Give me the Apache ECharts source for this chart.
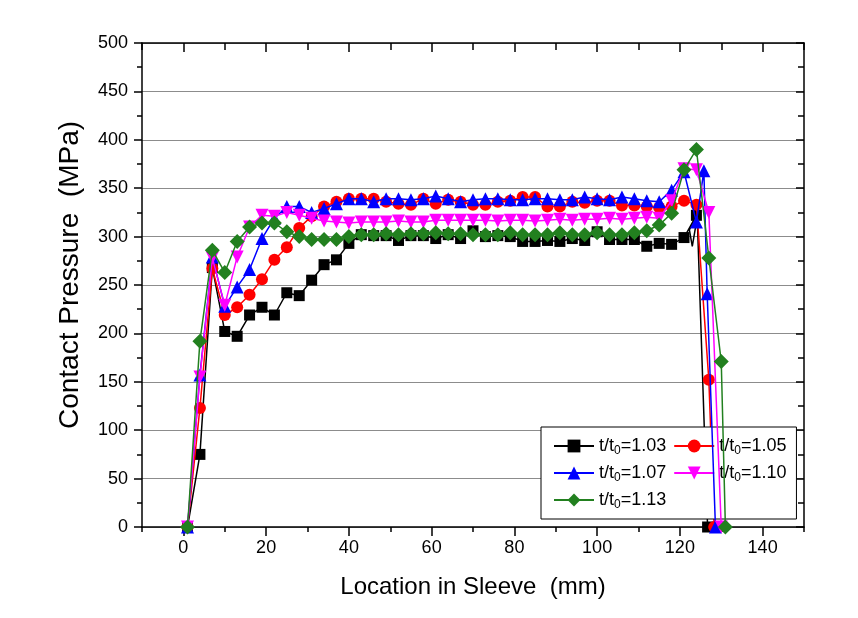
<!DOCTYPE html>
<html><head><meta charset="utf-8">
<script src="https://cdn.jsdelivr.net/npm/echarts@6/dist/echarts.min.js"></script>
<style>html,body{margin:0;padding:0;background:#fff}#c{width:858px;height:618px}</style>
</head><body><div id="c"></div>
<script>
// Location in sleeve (mm), shared by the main part of every curve
const loc = [1,4,7,10,13,16,19,22,25,28,31,34,37,40,43,46,49,52,55,58,61,64,67,70,73,76,79,82,85,88,91,94,97,100,103,106,109,112,115,118,121,124];

const ratios = ['1.03','1.05','1.07','1.10','1.13'];

const p103 = [0,75,268,202,197,219,227,219,242,239,255,271,276,293,302,301,301,296,301,301,298,302,298,306,300,301,300,295,295,296,295,298,296,305,297,297,297,290,293,292,299,322];
const p103TailX = [122.3,123,124.2,126.7];
const p103TailY = [307,290,320,0];
const p103TailMark = [false,false,false,true];

const p105 = [0,123,267,219,227,240,256,276,289,309,321,331,336,339,339,339,336,334,333,339,334,338,336,333,333,336,337,341,341,331,331,336,335,337,337,332,332,331,330,331,337,333];
const p105TailX = [127,128.3];
const p105TailY = [152,0];

const p107 = [0,157,279,228,248,266,298,319,331,331,325,329,334,339,339,336,339,339,338,339,342,339,336,338,339,339,338,338,339,339,338,338,341,339,338,341,339,337,336,348,367,315];
const p107TailX = [125.8,126.6,128.6];
const p107TailY = [368,241,0];

const p110 = [0,155,278,229,279,310,322,321,325,322,319,316,315,314,315,315,315,316,315,315,317,317,317,317,317,316,317,317,316,317,318,317,318,318,319,318,319,320,319,337,370,369];
const p110TailX = [127,130];
const p110TailY = [325,0];

const p113 = [0,192,286,263,295,310,314,314,305,300,297,297,297,300,302,302,303,302,303,303,304,303,303,302,302,302,304,302,302,302,304,302,302,304,302,302,304,306,312,324,369,390];
const p113TailX = [127,130,131];
const p113TailY = [278,171,0];

const xMajor = [0,20,40,60,80,100,120,140];
const xMinor = [-10,10,30,50,70,90,110,130,150];

function build(ys, tx, ty, tmark) {
  const d = loc.map((x, i) => [x, ys[i]]);
  tx.forEach((x, i) => {
    if (tmark && !tmark[i]) d.push({value: [x, ty[i]], symbol: 'none'});
    else d.push([x, ty[i]]);
  });
  return d;
}

const FONT = 'Liberation Sans, Arial, Helvetica, sans-serif';
const colors = ['#000000', '#ff0000', '#0000ff', '#ff00ff', '#22801f'];
const symbols = ['rect', 'circle', 'triangle', 'path://M0,0 L10,0 L5,9 Z', 'diamond'];
const sizes = [11, 12, 13, 13, 15];
const datas = [
  build(p103, p103TailX, p103TailY, p103TailMark),
  build(p105, p105TailX, p105TailY),
  build(p107, p107TailX, p107TailY),
  build(p110, p110TailX, p110TailY),
  build(p113, p113TailX, p113TailY)
];

const axisLineStyle = {color: '#000', width: 1.5};
const baseX = {type: 'value', min: -10, max: 150, interval: 10, gridIndex: 0, splitLine: {show: false}};
const baseY = {type: 'value', min: 0, max: 500, interval: 50, gridIndex: 0};

const chart = echarts.init(document.getElementById('c'), null, {renderer: 'canvas'});
chart.setOption({
  animation: false,
  backgroundColor: '#fff',
  grid: {left: 142, right: 54, top: 43, bottom: 91},
  xAxis: [
    Object.assign({}, baseX, {
      position: 'bottom',
      axisLine: {show: true, onZero: false, lineStyle: axisLineStyle},
      axisTick: {show: true, customValues: xMajor, length: 9, lineStyle: {color: '#000', width: 1.5}},
      axisLabel: {customValues: xMajor, fontSize: 18, fontFamily: FONT, color: '#000', margin: 12},
      name: 'Location in Sleeve  (mm)', nameLocation: 'middle', nameGap: 48,
      nameTextStyle: {fontSize: 24, fontFamily: FONT, color: '#000'}
    }),
    Object.assign({}, baseX, {
      position: 'bottom',
      axisLine: {show: false, onZero: false},
      axisTick: {show: true, customValues: xMinor, length: 5, lineStyle: {color: '#000', width: 1.5}},
      axisLabel: {show: false}
    }),
    Object.assign({}, baseX, {
      position: 'top',
      axisLine: {show: true, onZero: false, lineStyle: axisLineStyle},
      axisTick: {show: true, inside: true, customValues: xMajor, length: 9, lineStyle: {color: '#000', width: 1.5}},
      axisLabel: {show: false}
    }),
    Object.assign({}, baseX, {
      position: 'top',
      axisLine: {show: false, onZero: false},
      axisTick: {show: true, inside: true, customValues: xMinor, length: 7, lineStyle: {color: '#000', width: 1.5}},
      axisLabel: {show: false}
    })
  ],
  yAxis: [
    Object.assign({}, baseY, {
      position: 'left',
      axisLine: {show: true, onZero: false, lineStyle: axisLineStyle},
      axisTick: {show: true, length: 8, lineStyle: {color: '#000', width: 1.5}},
      minorTick: {show: true, splitNumber: 2, length: 5, lineStyle: {color: '#000', width: 1.5}},
      splitLine: {show: true, lineStyle: {color: '#8c8c8c', width: 1}},
      axisLabel: {fontSize: 18, fontFamily: FONT, color: '#000', margin: 14},
      name: 'Contact Pressure  (MPa)', nameLocation: 'middle', nameGap: 58, nameRotate: 90,
      nameTextStyle: {fontSize: 28, fontFamily: FONT, color: '#000', padding: [0, 0, 0, 20]}
    }),
    Object.assign({}, baseY, {
      position: 'right',
      axisLine: {show: true, onZero: false, lineStyle: axisLineStyle},
      axisTick: {show: true, inside: true, length: 8, lineStyle: {color: '#000', width: 1.5}},
      minorTick: {show: true, splitNumber: 2, length: 6, lineStyle: {color: '#000', width: 1.5}},
      splitLine: {show: false},
      axisLabel: {show: false}
    })
  ],
  legend: {
    left: 541, top: 427,
    width: 256,
    orient: 'horizontal',
    padding: [10, 10, 8, 12],
    itemGap: 7,
    itemWidth: 40, itemHeight: 16,
    backgroundColor: '#fff',
    borderColor: '#000', borderWidth: 1, borderRadius: 0,
    data: ratios,
    formatter: n => '{a|t/t}{b|0}{a|=' + n + '}',
    textStyle: {
      fontSize: 18, fontFamily: FONT, color: '#000', width: 70,
      rich: {
        a: {fontSize: 18, fontFamily: FONT, color: '#000'},
        b: {fontSize: 12, fontFamily: FONT, color: '#000', padding: [10, 0, 0, 0]}
      }
    }
  },
  series: ratios.map((r, i) => ({
    name: r,
    type: 'line',
    xAxisIndex: 0, yAxisIndex: 0,
    data: datas[i],
    symbol: symbols[i],
    symbolSize: sizes[i],
    showAllSymbol: true,
    lineStyle: {color: colors[i], width: 1.5},
    itemStyle: {color: colors[i], borderWidth: 0},
    z: 2 + i
  }))
});
</script></body></html>
